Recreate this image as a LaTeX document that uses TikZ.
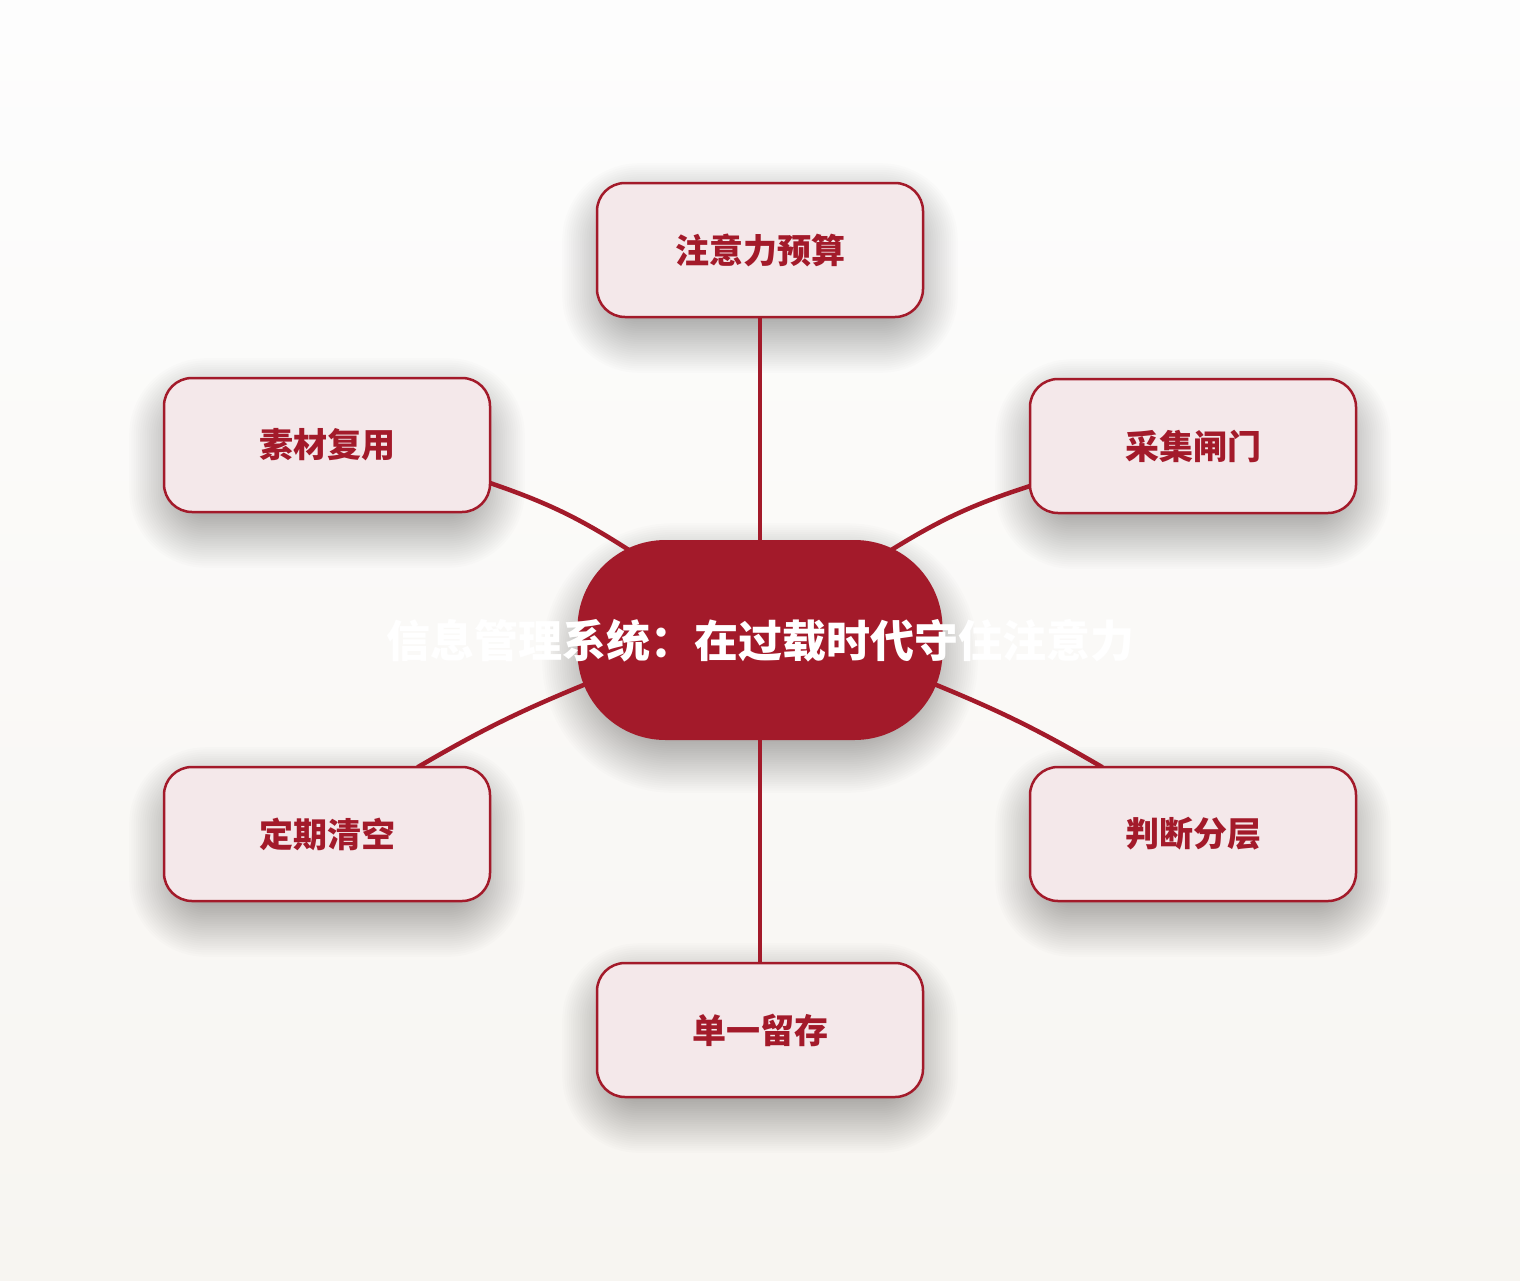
\documentclass[tikz,border=0pt]{standalone}
\usepackage{fontspec}
\newfontfamily\cjk{Noto Sans CJK SC Black}
\usetikzlibrary{calc}
\definecolor{dred}{HTML}{A31A2A}
\definecolor{bfill}{HTML}{F4E8EA}
\definecolor{bgtop}{HTML}{FDFDFD}
\definecolor{bgbot}{HTML}{F7F5F1}
\tikzset{
  topicbox/.style={draw=dred, line width=2.5pt, fill=bfill, rounded corners=28pt,
    minimum width=326pt, minimum height=134pt, inner sep=0pt,
    font=\cjk\fontsize{34}{40}\selectfont, text=dred},
  hub/.style={fill=dred, rounded corners=88pt, minimum width=365pt, minimum height=200pt, inner sep=0pt},
  hubtext/.style={text=white, inner sep=0pt, font=\cjk\fontsize{44}{50}\selectfont},
  link/.style={draw=dred, line width=4.5pt, line cap=round},
  shadowlayer/.style={fill=black, opacity=0.011}
}
% soft shadow: center x, center y, half width, half height, radius
\newcommand\mysoftshadow[5]{%
  \foreach \i in {0,...,24}{%
    \fill[shadowlayer, rounded corners={#5+\i*2.2}]
      ({#1-#3-\i*2.2},{#2-#4-\i*2.2+18}) rectangle ({#1+#3+\i*2.2},{#2+#4+\i*2.2+18});
  }%
}
\begin{document}
\begin{tikzpicture}[x=1pt,y=-1pt]
\shade[top color=bgtop, bottom color=bgbot] (0,0) rectangle (1520,1280);
\useasboundingbox (0,0) rectangle (1520,1280);
% shadows
\mysoftshadow{760}{250}{145}{52}{24}
\mysoftshadow{327}{445}{145}{52}{24}
\mysoftshadow{1193}{446}{145}{52}{24}
\mysoftshadow{327}{834}{145}{52}{24}
\mysoftshadow{1193}{834}{145}{52}{24}
\mysoftshadow{760}{1030}{145}{52}{24}
\mysoftshadow{760}{640}{165}{82}{78}
% connectors
\coordinate (t1) at (760,317); \coordinate (c1) at (760,540);
\coordinate (c2) at (760,740); \coordinate (b1) at (760,963);
\coordinate (lt1) at (490,483); \coordinate (clt) at (632,552);
\coordinate (rt1) at (1030,486); \coordinate (crt) at (888,552);
\coordinate (lb1) at (418,767); \coordinate (clb) at (586,684);
\coordinate (rb1) at (1102,767); \coordinate (crb) at (934,684);
\draw[link] (t1) -- (c1);
\draw[link] (c2) -- (b1);
\draw[link] (lt1) to[bend left=7] (clt);
\draw[link] (rt1) to[bend right=7] (crt);
\draw[link] (lb1) to[bend left=4] (clb);
\draw[link] (rb1) to[bend right=4] (crb);
% nodes
\node[topicbox] (n1) at (760,250) {注意力预算};
\node[topicbox] (n2) at (327,445) {素材复用};
\node[topicbox] (n3) at (1193,446) {采集闸门};
\node[topicbox] (n4) at (327,834) {定期清空};
\node[topicbox] (n5) at (1193,834) {判断分层};
\node[topicbox] (n6) at (760,1030) {单一留存};
\node[hub] (c) at (760,640) {};
\node[hubtext] (ct) at (760,641) {信息管理系统：在过载时代守住注意力};
\end{tikzpicture}
\end{document}
